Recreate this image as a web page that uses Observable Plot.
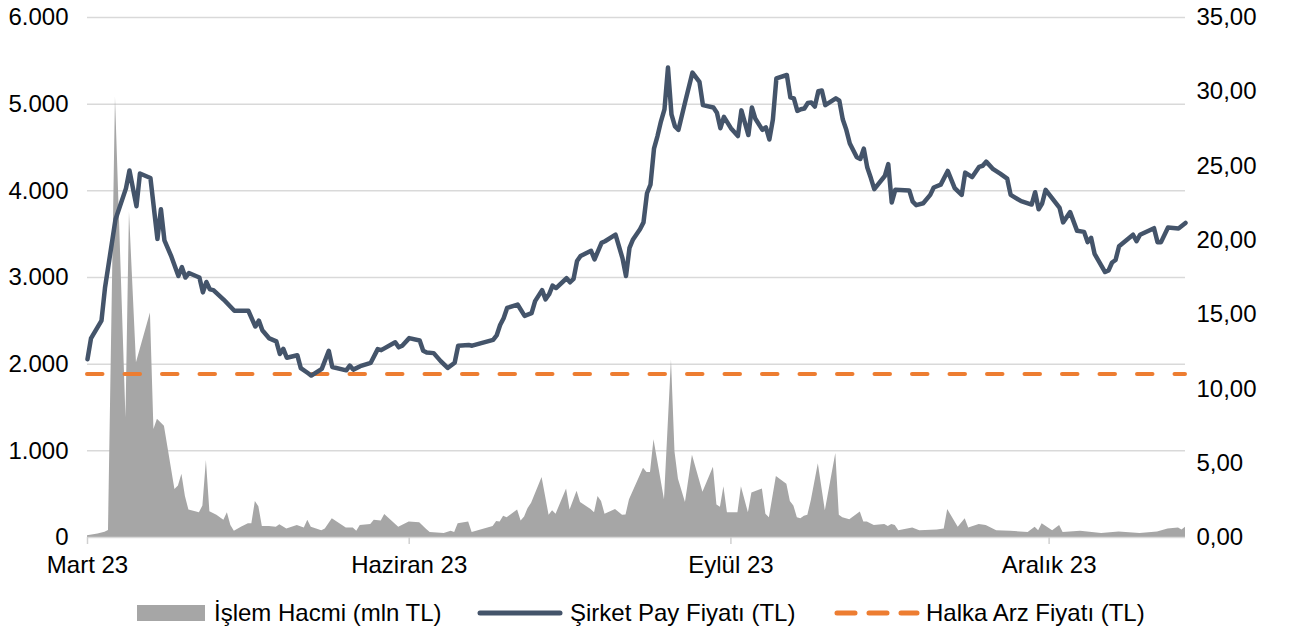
<!DOCTYPE html>
<html><head><meta charset="utf-8">
<script src="https://cdn.jsdelivr.net/npm/d3@7"></script>
<script src="https://cdn.jsdelivr.net/npm/@observablehq/plot@0.6"></script>
<style>
body{margin:0;background:#fff;font-family:Arial,"Liberation Sans",sans-serif;}
#wrap{position:relative;width:1289px;height:633px;overflow:hidden;}
#chart{position:absolute;left:0;top:0;}
#legend{position:absolute;left:0;top:598px;width:1289px;height:30px;font-size:24px;color:#000;}
.item{position:absolute;top:0;height:30px;line-height:30px;white-space:nowrap;}
.sw{position:absolute;}
</style></head><body>
<div id="wrap"><div id="chart"></div><div id="legend"></div></div>
<script>
// ---- data ----
const priceDates = ["2023-03-01","2023-03-02","2023-03-05","2023-03-06","2023-03-09","2023-03-12","2023-03-13","2023-03-15","2023-03-16","2023-03-19","2023-03-21","2023-03-22","2023-03-23","2023-03-25","2023-03-27","2023-03-28","2023-03-29","2023-03-30","2023-04-02","2023-04-03","2023-04-04","2023-04-05","2023-04-06","2023-04-09","2023-04-12","2023-04-16","2023-04-18","2023-04-19","2023-04-20","2023-04-22","2023-04-24","2023-04-25","2023-04-26","2023-04-27","2023-04-30","2023-05-01","2023-05-03","2023-05-04","2023-05-07","2023-05-09","2023-05-10","2023-05-14","2023-05-15","2023-05-16","2023-05-18","2023-05-21","2023-05-23","2023-05-24","2023-05-28","2023-05-29","2023-05-30","2023-06-01","2023-06-04","2023-06-05","2023-06-06","2023-06-08","2023-06-10","2023-06-12","2023-06-14","2023-06-15","2023-06-18","2023-06-19","2023-06-25","2023-06-26","2023-06-27","2023-06-28","2023-06-29","2023-07-02","2023-07-04","2023-07-06","2023-07-07","2023-07-09","2023-07-10","2023-07-11","2023-07-12","2023-07-13","2023-07-16","2023-07-17","2023-07-18","2023-07-19","2023-07-20","2023-07-23","2023-07-24","2023-07-26","2023-07-27","2023-07-30","2023-08-01","2023-08-02","2023-08-03","2023-08-04","2023-08-06","2023-08-07","2023-08-08","2023-08-09","2023-08-10","2023-08-11","2023-08-12","2023-08-13","2023-08-14","2023-08-15","2023-08-16","2023-08-17","2023-08-19","2023-08-21","2023-08-23","2023-08-24","2023-08-27","2023-08-28","2023-08-29","2023-08-30","2023-09-01","2023-09-03","2023-09-04","2023-09-06","2023-09-07","2023-09-08","2023-09-10","2023-09-11","2023-09-12","2023-09-13","2023-09-14","2023-09-17","2023-09-18","2023-09-19","2023-09-20","2023-09-21","2023-09-22","2023-09-23","2023-09-24","2023-09-25","2023-09-26","2023-09-27","2023-09-28","2023-10-01","2023-10-02","2023-10-03","2023-10-04","2023-10-05","2023-10-07","2023-10-08","2023-10-09","2023-10-10","2023-10-11","2023-10-12","2023-10-15","2023-10-16","2023-10-17","2023-10-18","2023-10-22","2023-10-23","2023-10-24","2023-10-26","2023-10-28","2023-10-29","2023-10-31","2023-11-02","2023-11-04","2023-11-06","2023-11-07","2023-11-09","2023-11-11","2023-11-12","2023-11-13","2023-11-15","2023-11-17","2023-11-19","2023-11-20","2023-11-23","2023-11-26","2023-11-27","2023-11-28","2023-11-29","2023-11-30","2023-12-04","2023-12-05","2023-12-07","2023-12-09","2023-12-11","2023-12-12","2023-12-13","2023-12-14","2023-12-17","2023-12-18","2023-12-19","2023-12-20","2023-12-21","2023-12-25","2023-12-26","2023-12-27","2023-12-31","2024-01-01","2024-01-02","2024-01-04","2024-01-07","2024-01-09"];
const priceValues = [12.0,13.4,14.6,16.8,21.4,23.5,24.7,22.3,24.5,24.2,20.1,22.1,20.0,18.9,17.6,18.2,17.5,17.8,17.5,16.5,17.2,16.7,16.65,16.0,15.26,15.26,14.2,14.6,13.95,13.4,13.2,12.35,12.7,12.1,12.27,11.4,11.07,10.9,11.35,12.57,11.48,11.25,11.57,11.3,11.53,11.76,12.68,12.61,13.14,12.8,12.91,13.42,13.26,12.57,12.45,12.41,11.87,11.41,11.76,12.91,12.96,12.91,13.3,13.6,14.3,14.76,15.45,15.68,14.92,15.1,15.91,16.65,16.03,16.37,16.95,16.79,17.45,17.18,17.41,18.61,18.95,19.3,18.72,19.83,19.94,20.38,18.79,17.6,19.5,20.06,20.75,21.21,23.17,23.75,26.17,27.02,28.01,28.82,31.63,28.48,27.67,27.44,29.4,31.29,30.67,29.1,28.94,28.59,27.55,28.31,27.55,27.02,28.75,27.09,28.94,28.18,27.44,27.6,26.79,28.13,30.9,31.13,29.63,29.56,28.71,28.82,28.87,29.24,29.28,29.01,30.04,30.09,29.1,29.56,29.4,28.13,27.44,26.52,25.59,25.48,26.17,24.9,24.21,23.45,24.33,25.13,22.55,23.4,23.36,22.6,22.37,22.5,23.06,23.56,23.75,24.67,23.52,23.06,24.56,24.26,24.95,25.02,25.3,24.79,24.49,24.16,23.06,22.64,22.41,23.24,22.09,22.48,23.4,22.18,21.21,21.9,20.64,20.57,19.88,20.17,19.09,17.87,17.98,18.51,18.68,19.6,20.38,19.94,20.38,20.82,19.88,19.88,20.87,20.8,21.17];

const volumeDates = ["2023-03-01","2023-03-04","2023-03-06","2023-03-07","2023-03-09","2023-03-12","2023-03-13","2023-03-15","2023-03-19","2023-03-20","2023-03-21","2023-03-23","2023-03-26","2023-03-27","2023-03-28","2023-03-29","2023-03-30","2023-04-02","2023-04-03","2023-04-04","2023-04-05","2023-04-07","2023-04-09","2023-04-10","2023-04-11","2023-04-12","2023-04-14","2023-04-16","2023-04-17","2023-04-18","2023-04-19","2023-04-20","2023-04-22","2023-04-24","2023-04-25","2023-04-27","2023-04-30","2023-05-02","2023-05-03","2023-05-04","2023-05-07","2023-05-08","2023-05-10","2023-05-14","2023-05-16","2023-05-17","2023-05-18","2023-05-21","2023-05-22","2023-05-24","2023-05-25","2023-05-29","2023-05-30","2023-06-01","2023-06-04","2023-06-06","2023-06-07","2023-06-11","2023-06-13","2023-06-14","2023-06-15","2023-06-18","2023-06-19","2023-06-25","2023-06-26","2023-06-27","2023-06-28","2023-06-29","2023-07-02","2023-07-03","2023-07-04","2023-07-05","2023-07-06","2023-07-09","2023-07-11","2023-07-12","2023-07-13","2023-07-16","2023-07-17","2023-07-19","2023-07-20","2023-07-23","2023-07-24","2023-07-25","2023-07-26","2023-07-27","2023-07-30","2023-08-01","2023-08-02","2023-08-03","2023-08-07","2023-08-08","2023-08-09","2023-08-10","2023-08-13","2023-08-15","2023-08-16","2023-08-17","2023-08-19","2023-08-21","2023-08-24","2023-08-27","2023-08-28","2023-08-29","2023-08-30","2023-08-31","2023-09-03","2023-09-04","2023-09-06","2023-09-07","2023-09-10","2023-09-11","2023-09-12","2023-09-14","2023-09-17","2023-09-18","2023-09-19","2023-09-20","2023-09-21","2023-09-22","2023-09-23","2023-09-24","2023-09-26","2023-09-28","2023-10-01","2023-10-02","2023-10-03","2023-10-05","2023-10-08","2023-10-09","2023-10-10","2023-10-12","2023-10-15","2023-10-16","2023-10-17","2023-10-18","2023-10-19","2023-10-23","2023-10-25","2023-10-30","2023-11-01","2023-11-02","2023-11-05","2023-11-07","2023-11-08","2023-11-11","2023-11-13","2023-11-14","2023-11-16","2023-11-20","2023-11-25","2023-11-27","2023-11-28","2023-11-29","2023-12-02","2023-12-04","2023-12-05","2023-12-10","2023-12-16","2023-12-21","2023-12-27","2024-01-01","2024-01-04","2024-01-07","2024-01-08","2024-01-09"];
const volumeValues = [20,40,60,80,5080,1380,3755,2016,2589,1245,1364,1285,553,593,731,474,316,285,364,889,296,257,198,285,138,71,119,158,158,415,356,126,126,119,146,99,138,111,198,119,79,99,217,111,111,71,138,150,198,190,265,119,138,178,170,91,59,45,71,59,158,178,59,126,186,178,245,229,316,190,237,336,395,692,257,308,269,561,316,534,403,324,285,474,415,269,324,257,260,435,798,751,751,1127,435,2048,988,672,403,949,522,810,376,348,585,285,285,585,285,514,561,269,229,704,613,415,364,229,217,245,257,427,850,308,968,257,229,206,293,178,178,138,150,126,150,138,79,111,79,87,99,324,119,217,111,150,138,119,79,71,59,119,79,158,79,138,59,71,47,63,47,63,99,111,87,119];

const ipoPrice = 11.0;
const leftTicks = [0,1000,2000,3000,4000,5000,6000];
const rightTicks = [0,5,10,15,20,25,30,35];
const monthTicks = ["2023-03-01","2023-06-01","2023-09-01","2023-12-01"];
const monthLabels = ["Mart 23","Haziran 23","Eylül 23","Aralık 23"];
const legendLabels = ["İşlem Hacmi (mln TL)","Şirket Pay Fiyatı (TL)","Halka Arz Fiyatı (TL)"];
const xStart = "2023-03-01", xEnd = "2024-01-09";

// ---- build ----
const parse = d3.utcParse("%Y-%m-%d");
const tr = d3.formatLocale({decimal:",", thousands:".", grouping:[3], currency:["₺",""]});
const fmtLeft = tr.format(",.0f");
const fmtRight = tr.format(",.2f");
const k = 6000 / 35; // right axis -> left axis scale

const price = priceDates.map((d,i)=>({date:parse(d), p:priceValues[i]}));
const volume = volumeDates.map((d,i)=>({date:parse(d), v:volumeValues[i]}));
const mTicks = monthTicks.map(parse);

const FONT = "24px";
const chart = Plot.plot({
  width: 1289, height: 585,
  marginLeft: 87, marginRight: 104, marginTop: 17, marginBottom: 48,
  style: {fontSize: FONT, fontFamily: "Arial, 'Liberation Sans', sans-serif", color: "#000", background: "#fff", overflow: "visible"},
  x: {type: "utc", domain: [parse(xStart), parse(xEnd)]},
  y: {domain: [0, 6000]},
  marks: [
    Plot.ruleY(leftTicks.filter(t=>t>0), {stroke: "#d9d9d9", strokeWidth: 1.5}),
    Plot.areaY(volume, {x: "date", y: "v", fill: "#a6a6a6"}),
    Plot.ruleY([0], {stroke: "#d9d9d9", strokeWidth: 1.5}),
    Plot.ruleY([ipoPrice], {y: d => d * k, stroke: "#ed7d31", strokeWidth: 4, strokeDasharray: "15.5,22", strokeLinecap: "round"}),
    Plot.lineY(price, {x: "date", y: d => d.p * k, stroke: "#44546a", strokeWidth: 4.5, strokeLinejoin: "round", strokeLinecap: "round"}),
    Plot.axisY(leftTicks, {anchor: "left", tickFormat: fmtLeft, tickSize: 0, tickPadding: 19, label: null, fontSize: FONT}),
    Plot.axisY(rightTicks.map(t => t * k), {anchor: "right", tickFormat: d => fmtRight(d / k), tickSize: 0, tickPadding: 11, label: null, fontSize: FONT}),
    Plot.axisX(mTicks, {anchor: "bottom", tickFormat: d => monthLabels[mTicks.findIndex(t => +t === +d)], tickSize: 7, tickPadding: 11, stroke: "#d0d0d0", strokeWidth: 1.5, label: null, fontSize: FONT})
  ]
});
document.getElementById("chart").appendChild(chart);

// ---- legend ----
const lg = document.getElementById("legend");
lg.innerHTML = `
  <div class="sw" style="left:137px;top:7px;width:68px;height:16px;background:#a6a6a6"></div>
  <div class="item" style="left:214px">${legendLabels[0]}</div>
  <svg class="sw" style="left:476px;top:0" width="88" height="30"><line x1="4" x2="84" y1="15" y2="15" stroke="#44546a" stroke-width="5" stroke-linecap="round"/></svg>
  <div class="item" style="left:570px">${legendLabels[1]}</div>
  <svg class="sw" style="left:833px;top:0" width="88" height="30"><line x1="4" x2="84" y1="15" y2="15" stroke="#ed7d31" stroke-width="5" stroke-dasharray="18,14" stroke-linecap="round"/></svg>
  <div class="item" style="left:926px">${legendLabels[2]}</div>`;
</script>
</body></html>
